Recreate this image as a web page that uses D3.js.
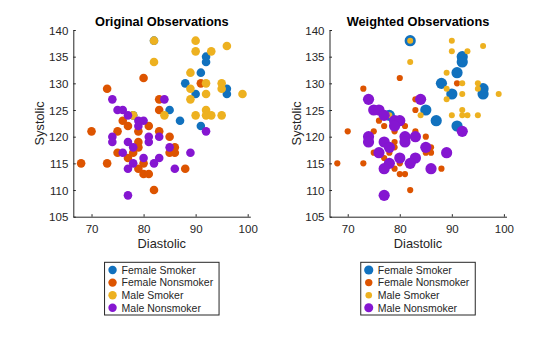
<!DOCTYPE html>
<html><head><meta charset="utf-8">
<script src="https://cdn.jsdelivr.net/npm/d3@7"></script>
<style>body{margin:0;background:#fff}svg{display:block;font-family:"Liberation Sans",Arial,Helvetica,sans-serif}</style>
</head><body><svg id="c" width="560" height="337"></svg>
<script>
// Data: [Diastolic, Systolic]
const groups = ["Female Smoker","Female Nonsmoker","Male Smoker","Male Nonsmoker"];
const colors = ["#1171BE","#DD5400","#EDB120","#8516D1"];
const femaleSmoker = [[82,138],[92,135],[92,134],[91,132],[88,130],[90,128],[96,129],[96,128],[85,125],[87,123],[91,122],[78,124]];
const femaleNonsmoker = [[80,131],[73,129],[83,127],[83,125],[91,130],[76,123],[77,122],[81,122],[70,121],[75,121],[79,121],[83,121],[85,120],[79,119],[79,118],[68,115],[73,115],[75,117],[77,116],[78,117],[85,117],[86,117],[86,118],[79,114],[80,113],[81,113],[80,115],[82,110],[88,114]];
const maleSmoker = [[82,138],[90,138],[90,136],[93,136],[96,137],[82,134],[89,132],[92,130],[95,130],[89,129],[95,129],[99,128],[92,128],[89,127],[92,125],[92,124],[93,124],[95,124],[90,124],[84,124],[78,124]];
const maleNonsmoker = [[74,127],[75,125],[76,125],[77,124],[84,127],[79,123],[80,123],[79,122],[74,120],[74,119],[77,119],[78,118],[76,117],[81,120],[81,119],[83,120],[85,118],[80,116],[78,115],[77,114],[83,116],[82,115],[86,114],[89,117],[92,121],[77,109]];
const xTicks = [70,80,90,100];
const yTicks = [105,110,115,120,125,130,135,140];
const titles = ["Original Observations","Weighted Observations"];
const series = [femaleSmoker, femaleNonsmoker, maleSmoker, maleNonsmoker];

const svg = d3.select("#c");
const ink = "#262626";
const panels = [
  {x0:73.3, title:titles[0], r:[4.3,4.3,4.3,4.3], lr:[4.2,4.2,4.2,4.2]},
  {x0:329.5, title:titles[1], r:[5.6,3.1,3.0,5.6], lr:[4.6,3.7,3.3,4.5]}
];
const W = 177, yTop = 30, yBot = 216.7;

panels.forEach(p => {
  const x = d3.scaleLinear().domain([66.5,100.5]).range([p.x0, p.x0+W]);
  const y = d3.scaleLinear().domain([105,140]).range([yBot, yTop]);
  const g = svg.append("g");
  // points
  series.forEach((s,i) => {
    g.append("g").selectAll("circle").data(s).join("circle")
      .attr("cx", d => x(d[0])).attr("cy", d => y(d[1]))
      .attr("r", p.r[i]).attr("fill", colors[i]);
  });
  // axes
  const xa = g.append("g").attr("transform",`translate(0,${yBot})`)
    .call(d3.axisBottom(x).tickValues(xTicks).tickSizeInner(-2.5).tickSizeOuter(0).tickPadding(8));
  const ya = g.append("g").attr("transform",`translate(${p.x0},0)`)
    .call(d3.axisLeft(y).tickValues(yTicks).tickSizeInner(-2.5).tickSizeOuter(0).tickPadding(5));
  [xa,ya].forEach(a => {
    a.select(".domain").attr("stroke", ink).attr("stroke-width",1);
    a.selectAll(".tick line").attr("stroke", ink);
    a.selectAll(".tick text").attr("fill", ink).attr("font-size","11.5px").attr("font-family","Liberation Sans, Arial, sans-serif");
  });
  ya.selectAll(".tick text").attr("dy","0.35em");
  // labels
  g.append("text").attr("x", p.x0+W/2).attr("y", 248).attr("text-anchor","middle")
    .attr("font-size","12.8px").attr("fill", ink).text("Diastolic");
  g.append("text").attr("transform",`translate(${p.x0-29},${(yTop+yBot)/2}) rotate(-90)`)
    .attr("text-anchor","middle").attr("font-size","12.8px").attr("fill", ink).text("Systolic");
  g.append("text").attr("x", p.x0+W/2).attr("y", 25.5).attr("text-anchor","middle")
    .attr("font-size","12.8px").attr("font-weight","bold").attr("fill","#000").text(p.title);
  // legend
  const lw = 114.5, lx = p.x0 + W/2 - lw/2, ly = 262.3;
  const lg = g.append("g");
  lg.append("rect").attr("x", lx).attr("y", ly).attr("width", lw).attr("height", 52.7)
    .attr("fill","#fff").attr("stroke", ink).attr("stroke-width",1);
  groups.forEach((name,i) => {
    const cy = 270 + i*12.6;
    lg.append("circle").attr("cx", lx+8).attr("cy", cy).attr("r", p.lr[i]).attr("fill", colors[i]);
    lg.append("text").attr("x", lx+17).attr("y", cy).attr("dy","0.36em")
      .attr("font-size","10.5px").attr("fill", ink).text(name);
  });
});
</script></body></html>
